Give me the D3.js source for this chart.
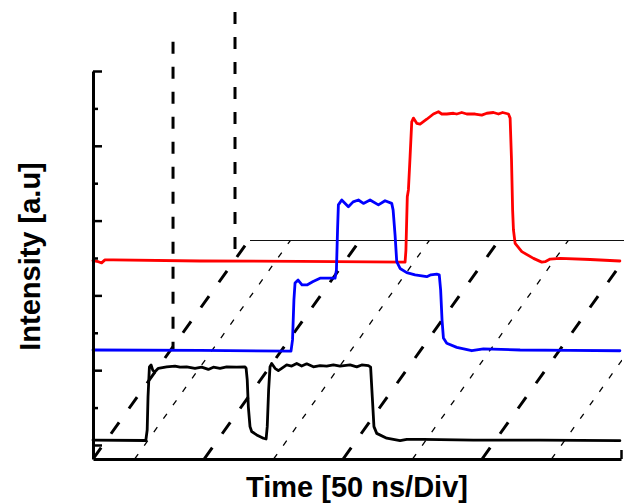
<!DOCTYPE html>
<html><head><meta charset="utf-8">
<script src="https://cdn.jsdelivr.net/npm/d3@7"></script>
<style>body{margin:0;background:#fff}svg{display:block}</style>
</head><body><svg id="c" width="624" height="504"></svg>
<script>
// ---- data ----
const timeDomain = [-40, 150];          // ns (50 ns / division)
const intensityDomain = [-0.375, 10];   // a.u.
const yTicksMajor = [0, 2, 4, 6, 8, 10];
const yTicksMinor = [1, 3, 5, 7, 9];
const xTicksEnd = [150];
const gridThick = [-40, 0, 50, 100];    // depth grid lines (thick dashed)
const gridThin = [-25, 25, 75, 125];    // depth grid lines (thin dashed)
const depthShift = 56;                  // ns shift from floor to back plane
const backLevel = 5.467;                // a.u. level of back plane edge
const backAxesTime = [-11.2, 11.1];
const backAxesBottom = [2.54, 5.21];
const backAxesTop = [10.78, 11.58];
const backLineTime = [16.5, 151.1];

const redTrace = [
  [-40,4.93],[-38.1,4.90],[-36.9,4.87],[-35.7,4.95],[-32.8,4.95],[-1.5,4.92],[34.5,4.91],[72.3,4.89],
  [72.6,5.2],[73.1,6.64],[73.5,6.82],[74.1,7.71],[74.7,8.64],[75.3,8.74],[76.5,8.60],[77.7,8.58],
  [80.1,8.71],[82.5,8.85],[84.3,8.91],[85.5,8.85],[87.3,8.85],[89.7,8.87],[90.9,8.85],[92.7,8.89],
  [94.5,8.85],[97.5,8.85],[99.9,8.82],[101.7,8.87],[104.1,8.89],[105.9,8.85],[107.4,8.89],[109.5,8.85],
  [110.1,8.74],[110.6,7.62],[111.0,6.28],[111.3,5.75],[111.9,5.39],[114.3,5.17],[118.5,4.99],
  [121.5,4.89],[122.7,4.90],[124.5,4.97],[128.1,4.99],[138.9,4.96],[149.6,4.92]
];
const blueTrace = [
  [-40,2.54],[-1.5,2.53],[31.25,2.51],[31.8,2.81],[32.3,3.88],[32.7,4.33],[33.8,4.41],[35.2,4.28],
  [37.0,4.28],[39.2,4.37],[41.7,4.46],[47.1,4.46],[47.6,4.68],[48.0,5.75],[48.3,6.42],[49.5,6.55],
  [51.9,6.37],[53.6,6.50],[55.5,6.55],[57.3,6.46],[59.7,6.55],[62.7,6.42],[65.1,6.53],[67.5,6.46],
  [68.0,6.28],[68.7,5.61],[69.3,4.90],[70.5,4.72],[72.9,4.61],[75.9,4.55],[80.1,4.50],[81.6,4.55],
  [83.7,4.57],[84.6,4.55],[85.1,4.14],[85.6,3.34],[86.1,2.86],[87.3,2.72],[90.9,2.61],[96.3,2.52],
  [100.5,2.57],[113.7,2.54],[131.7,2.53],[149.6,2.52]
];
const blackTrace = [
  [-40,0.13],[-21,0.12],[-20.5,0.40],[-20.2,1.29],[-19.7,2.09],[-19.1,2.14],[-18.5,2.00],[-17.8,1.95],
  [-16.5,2.05],[-13.5,2.09],[-10.5,2.11],[-8.7,2.08],[-6.3,2.09],[-3.3,2.05],[-0.9,2.08],[1.5,2.02],
  [3.3,2.08],[5.7,2.05],[8.1,2.09],[11.7,2.08],[14.7,2.09],[15.1,2.05],[15.5,1.74],[15.9,1.02],
  [16.5,0.49],[17.1,0.36],[18.9,0.27],[21.3,0.18],[22.3,0.16],[22.7,0.49],[23.2,1.47],[23.7,2.09],
  [24.3,2.18],[25.5,2.05],[26.7,1.99],[27.9,2.05],[29.7,2.14],[31.5,2.11],[33.3,2.18],[35.1,2.11],
  [36.9,2.17],[39.3,2.09],[41.7,2.12],[44.1,2.11],[46.5,2.14],[48.9,2.11],[52.5,2.14],[54.9,2.09],
  [56.7,2.14],[59.1,2.12],[59.9,2.08],[60.5,1.29],[61.1,0.49],[62.1,0.31],[65.7,0.18],[70.5,0.115],
  [72.9,0.15],[78.9,0.15],[96.9,0.13],[120.9,0.13],[149.6,0.115]
];
const traces = [
  {name: "red", color: "#ff0000", data: redTrace},
  {name: "blue", color: "#0000ff", data: blueTrace},
  {name: "black", color: "#000000", data: blackTrace}
];
const xLabel = "Time [50 ns/Div]";
const yLabel = "Intensity [a.u]";

// ---- drawing ----
const svg = d3.select("#c");
const x = d3.scaleLinear().domain(timeDomain).range([93, 621]);
const y = d3.scaleLinear().domain(intensityDomain).range([459, 71]);

svg.append("defs").append("clipPath").attr("id", "plotclip")
  .append("rect").attr("x", x(timeDomain[0])).attr("y", 0)
  .attr("width", x(timeDomain[1]) - x(timeDomain[0]) + 1).attr("height", y(intensityDomain[0]));

const line = d3.line().x(d => x(d[0])).y(d => y(d[1]));

const grid = svg.append("g").attr("clip-path", "url(#plotclip)");
grid.selectAll("line.thick").data(gridThick).join("line").attr("class", "thick")
  .attr("x1", d => x(d)).attr("y1", y(intensityDomain[0]))
  .attr("x2", d => x(d + depthShift)).attr("y2", y(backLevel))
  .attr("stroke", "#000").attr("stroke-width", 3).attr("stroke-dasharray", "14,17");
grid.selectAll("line.thin").data(gridThin).join("line").attr("class", "thin")
  .attr("x1", d => x(d)).attr("y1", y(intensityDomain[0]))
  .attr("x2", d => x(d + depthShift)).attr("y2", y(backLevel))
  .attr("stroke", "#000").attr("stroke-width", 1.3).attr("stroke-dasharray", "6,10.5");

svg.append("line")
  .attr("x1", x(backLineTime[0])).attr("x2", x(backLineTime[1]))
  .attr("y1", y(backLevel)).attr("y2", y(backLevel))
  .attr("stroke", "#111").attr("stroke-width", 1.2);

svg.selectAll("line.back").data(backAxesTime).join("line").attr("class", "back")
  .attr("x1", d => x(d)).attr("x2", d => x(d))
  .attr("y1", (d, i) => y(backAxesTop[i])).attr("y2", (d, i) => y(backAxesBottom[i]))
  .attr("stroke", "#000").attr("stroke-width", 3).attr("stroke-dasharray", "12,13");

svg.append("g").selectAll("path").data(traces).join("path")
  .attr("d", d => line(d.data)).attr("fill", "none")
  .attr("stroke", d => d.color).attr("stroke-width", 2.8)
  .attr("stroke-linejoin", "round").attr("stroke-linecap", "round");

// axes
const yMaj = svg.append("g").attr("transform", `translate(${x(timeDomain[0])},0)`)
  .call(d3.axisRight(y).tickValues(yTicksMajor).tickSize(9).tickSizeOuter(0).tickFormat(""));
const yMin = svg.append("g").attr("transform", `translate(${x(timeDomain[0])},0)`)
  .call(d3.axisRight(y).tickValues(yTicksMinor).tickSize(5).tickSizeOuter(0).tickFormat(""));
yMin.select(".domain").remove();
const xAx = svg.append("g").attr("transform", `translate(0,${y(intensityDomain[0])})`)
  .call(d3.axisTop(x).tickValues(xTicksEnd).tickSize(9).tickSizeOuter(0).tickFormat(""));
svg.selectAll(".domain").attr("stroke", "#000").attr("stroke-width", 3);
svg.selectAll(".tick line").attr("stroke", "#000").attr("stroke-width", 2.5);

svg.append("text").attr("x", 357).attr("y", 497).attr("text-anchor", "middle")
  .attr("font-family", "'Liberation Sans', Arial, sans-serif").attr("font-weight", "bold")
  .attr("font-size", 29).text(xLabel);
svg.append("text").attr("transform", "translate(40,256.5) rotate(-90)").attr("text-anchor", "middle")
  .attr("font-family", "'Liberation Sans', Arial, sans-serif").attr("font-weight", "bold")
  .attr("font-size", 29).text(yLabel);
</script></body></html>
